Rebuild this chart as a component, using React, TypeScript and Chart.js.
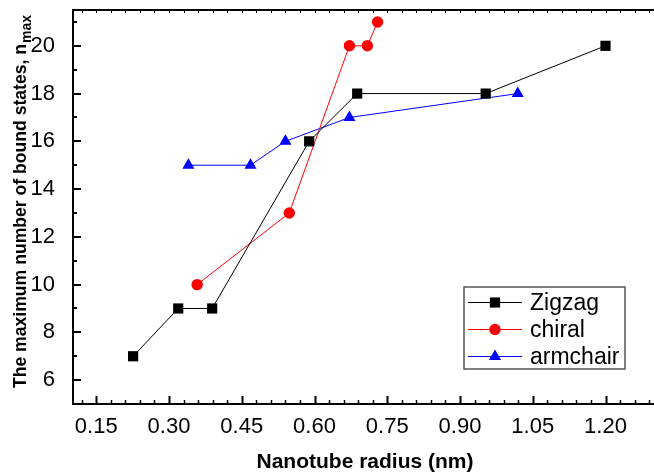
import { useEffect, useRef } from 'react';
import { Chart, registerables } from 'chart.js';
Chart.register(...registerables);

const seriesNames = ['Zigzag', 'chiral', 'armchair'];
const zigzagX = [0.226, 0.319, 0.389, 0.589, 0.688, 0.953, 1.2];
const zigzagY = [7, 9, 9, 16, 18, 18, 20];
const chiralX = [0.358, 0.548, 0.672, 0.709, 0.73];
const chiralY = [10, 13, 20, 20, 21];
const armchairX = [0.34, 0.468, 0.54, 0.672, 1.019];
const armchairY = [15, 15, 16, 17, 18];
const xTicks = [0.15, 0.3, 0.45, 0.6, 0.75, 0.9, 1.05, 1.2];
const yTicks = [6, 8, 10, 12, 14, 16, 18, 20];
const xTitle = 'Nanotube radius (nm)';
const yTitleMain = 'The maximum number of bound states, n';
const yTitleSub = 'max';

const FONT = "'Liberation Sans', Arial, Helvetica, sans-serif";

function drawMarker(ctx: CanvasRenderingContext2D, style: string, x: number, y: number, r: number, color: string) {
  ctx.save();
  ctx.fillStyle = color;
  ctx.beginPath();
  if (style === 'rect') {
    const s = Math.SQRT1_2 * r;
    ctx.rect(x - s, y - s, 2 * s, 2 * s);
  } else if (style === 'triangle') {
    ctx.moveTo(x, y - r);
    ctx.lineTo(x + r * Math.sin(Math.PI / 3), y + r / 2);
    ctx.lineTo(x - r * Math.sin(Math.PI / 3), y + r / 2);
    ctx.closePath();
  } else {
    ctx.arc(x, y, r, 0, Math.PI * 2);
  }
  ctx.fill();
  ctx.restore();
}

const framePlugin = {
  id: 'frame',
  afterDraw(chart: any) {
    const ctx: CanvasRenderingContext2D = chart.ctx;
    const { left, right, top, bottom } = chart.chartArea;
    const xs = chart.scales.x;
    const ys = chart.scales.y;
    ctx.save();
    ctx.strokeStyle = '#000';
    ctx.lineCap = 'butt';
    // axis lines
    ctx.lineWidth = 2;
    ctx.beginPath();
    ctx.moveTo(left + 1, top);
    ctx.lineTo(left + 1, bottom);
    ctx.moveTo(left, bottom);
    ctx.lineTo(right, bottom);
    ctx.moveTo(left, top);
    ctx.lineTo(right, top);
    ctx.stroke();
    // x ticks
    for (let i = 4; i <= 43; i++) {
      const v = i * 0.03;
      const px = Math.round(xs.getPixelForValue(v)) + 0.5;
      const major = i % 5 === 0;
      ctx.lineWidth = major ? 2 : 1.5;
      ctx.beginPath();
      ctx.moveTo(px, bottom);
      ctx.lineTo(px, bottom - (major ? 8 : 4));
      ctx.stroke();
      ctx.lineWidth = 1;
      ctx.beginPath();
      ctx.moveTo(px, top);
      ctx.lineTo(px, top + 3);
      ctx.stroke();
    }
    // y ticks
    for (let v = 6; v <= 21; v++) {
      const py = Math.round(ys.getPixelForValue(v));
      const major = v % 2 === 0;
      ctx.lineWidth = 2;
      ctx.beginPath();
      ctx.moveTo(left, py);
      ctx.lineTo(left + (major ? 9 : 5), py);
      ctx.stroke();
    }
    // titles
    ctx.fillStyle = '#000';
    ctx.font = `bold 21px ${FONT}`;
    ctx.textAlign = 'center';
    ctx.textBaseline = 'alphabetic';
    ctx.fillText(xTitle, 365, 468);

    ctx.save();
    ctx.translate(26, 202);
    ctx.rotate(-Math.PI / 2);
    ctx.font = `bold 17.6px ${FONT}`;
    const w1 = ctx.measureText(yTitleMain).width;
    ctx.font = `bold 14px ${FONT}`;
    const w2 = ctx.measureText(yTitleSub).width;
    const start = -(w1 + w2) / 2;
    ctx.textAlign = 'left';
    ctx.font = `bold 17.6px ${FONT}`;
    ctx.fillText(yTitleMain, start, 0);
    ctx.font = `bold 14px ${FONT}`;
    ctx.fillText(yTitleSub, start + w1 + 1, 5);
    ctx.restore();

    // legend
    const bx = 464, by = 287, bw = 161, bh = 82;
    ctx.lineWidth = 1.5;
    ctx.strokeStyle = '#555';
    ctx.strokeRect(bx, by, bw, bh);
    const rows = [302.5, 329.5, 356.5];
    chart.data.datasets.forEach((ds: any, i: number) => {
      const y = rows[i];
      ctx.strokeStyle = ds.borderColor;
      ctx.lineWidth = 1;
      ctx.beginPath();
      ctx.moveTo(468, y);
      ctx.lineTo(522, y);
      ctx.stroke();
      drawMarker(ctx, ds.pointStyle, 495, y, ds.pointRadius, ds.backgroundColor);
      ctx.fillStyle = '#000';
      ctx.font = `23px ${FONT}`;
      ctx.textAlign = 'left';
      ctx.textBaseline = 'middle';
      ctx.fillText(ds.label, 530, y + 1);
    });
    ctx.restore();
  },
};

function pts(xs: number[], ys: number[]) {
  return xs.map((x, i) => ({ x, y: ys[i] }));
}

export default function App() {
  const ref = useRef<HTMLCanvasElement>(null);
  useEffect(() => {
    const tickFont = { family: FONT, size: 22 };
    const chart = new Chart(ref.current!, {
      type: 'scatter',
      data: {
        datasets: [
          { label: seriesNames[0], data: pts(zigzagX, zigzagY), showLine: true, borderColor: '#000000', backgroundColor: '#000000', borderWidth: 1, pointStyle: 'rect', pointRadius: 7.2, pointBorderWidth: 0 },
          { label: seriesNames[1], data: pts(chiralX, chiralY), showLine: true, borderColor: '#ff0000', backgroundColor: '#ff0000', borderWidth: 1, pointStyle: 'circle', pointRadius: 5.7, pointBorderWidth: 0 },
          { label: seriesNames[2], data: pts(armchairX, armchairY), showLine: true, borderColor: '#0000ff', backgroundColor: '#0000ff', borderWidth: 1, pointStyle: 'triangle', pointRadius: 7, pointBorderWidth: 0 },
        ],
      },
      options: {
        animation: false,
        responsive: false,
        events: [],
        layout: { autoPadding: false, padding: { top: 10, left: 0, right: 0, bottom: 0 } },
        plugins: { legend: { display: false }, tooltip: { enabled: false } },
        scales: {
          x: {
            type: 'linear', min: 0.1, max: 1.3,
            grid: { display: false }, border: { display: false },
            afterBuildTicks: (s: any) => { s.ticks = xTicks.map((v) => ({ value: v })); },
            afterFit: (s: any) => { s.height = 70; s.paddingLeft = 0; s.paddingRight = 0; },
            ticks: { font: tickFont, color: '#000', padding: 2, maxRotation: 0, autoSkip: false, callback: (v: any) => Number(v).toFixed(2) },
          },
          y: {
            type: 'linear', min: 5, max: 21.5,
            grid: { display: false }, border: { display: false },
            afterBuildTicks: (s: any) => { s.ticks = yTicks.map((v) => ({ value: v })); },
            afterFit: (s: any) => { s.width = 72; s.paddingTop = 0; s.paddingBottom = 0; },
            ticks: { font: tickFont, color: '#000', padding: 9, autoSkip: false, callback: (v: any) => String(v) },
          },
        },
      } as any,
      plugins: [framePlugin],
    });
    return () => chart.destroy();
  }, []);
  return (
    <div style={{ position: 'absolute', left: 0, top: 0, width: 654, height: 474, background: '#fff' }}>
      <canvas ref={ref} width={654} height={474} style={{ width: 654, height: 474, display: 'block' }} />
    </div>
  );
}
